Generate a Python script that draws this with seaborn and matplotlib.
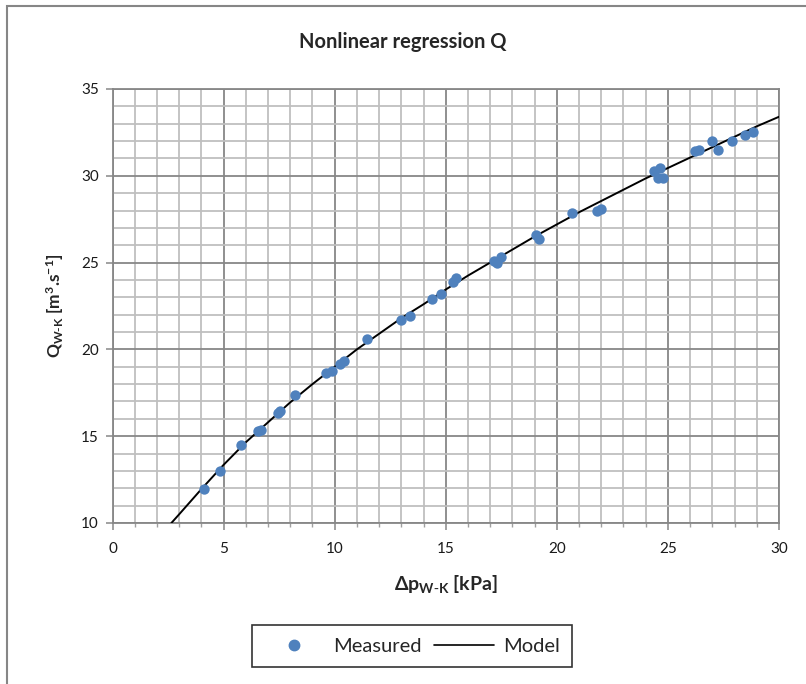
import matplotlib
matplotlib.use("Agg")
import matplotlib.pyplot as plt
from matplotlib.ticker import MultipleLocator
from matplotlib.patches import Rectangle
from matplotlib.lines import Line2D
import seaborn as sns
import pandas as pd

# Measured pressure drop [kPa] and flow rate [m3/s]
dp_measured = [4.13, 4.86, 5.79, 6.54, 6.69, 7.44, 7.55, 8.22, 9.60, 9.87,
               10.25, 10.43, 11.45, 13.00, 13.37, 14.38, 14.80, 15.31, 15.47,
               17.15, 17.30, 17.49, 19.08, 19.20, 20.68, 21.81, 21.99,
               24.39, 24.54, 24.63, 24.78, 26.24, 26.39, 27.00, 27.24, 27.87,
               28.48, 28.84]
q_measured = [11.94, 12.98, 14.51, 15.28, 15.36, 16.35, 16.45, 17.37, 18.62, 18.76,
              19.16, 19.33, 20.58, 21.69, 21.94, 22.89, 23.21, 23.87, 24.10,
              25.11, 24.96, 25.34, 26.59, 26.36, 27.84, 27.99, 28.09,
              30.29, 29.86, 30.45, 29.89, 31.45, 31.47, 32.02, 31.49, 32.02,
              32.35, 32.52]

# Regression model curve
dp_model = [2.65, 3, 4, 5, 6, 7, 8, 9, 10, 11, 12, 13, 14, 15, 16, 17, 18, 19,
            20, 21, 22, 23, 24, 25, 26, 27, 28, 29, 30]
q_model = [10.0, 10.5, 11.95, 13.35, 14.65, 15.8, 16.95, 18.0, 19.0, 20.0, 20.9,
           21.8, 22.6, 23.45, 24.25, 25.0, 25.75, 26.5, 27.2, 27.9, 28.55, 29.2,
           29.85, 30.45, 31.05, 31.65, 32.25, 32.85, 33.4]

x_ticks = [0, 5, 10, 15, 20, 25, 30]
y_ticks = [10, 15, 20, 25, 30, 35]

sns.set_style("white")
plt.rcParams["font.family"] = ["Lato", "DejaVu Sans"]
plt.rcParams["mathtext.default"] = "regular"

measured = pd.DataFrame({"dp": dp_measured, "q": q_measured})
model = pd.DataFrame({"dp": dp_model, "q": q_model})

W, H = 806, 684
fig = plt.figure(figsize=(W / 100, H / 100), dpi=100)
ax = fig.add_axes([112.5 / W, 1 - 523 / H, (779 - 112.5) / W, (523 - 89) / H])

blue = "#4F81BD"
sns.lineplot(data=model, x="dp", y="q", ax=ax, color="black", linewidth=1.4,
             zorder=3, sort=False)
sns.scatterplot(data=measured, x="dp", y="q", ax=ax, color=blue, s=56,
                edgecolor=blue, linewidth=0, zorder=4)

ax.set_xlim(0, 30)
ax.set_ylim(10, 35)
ax.set_xticks(x_ticks)
ax.set_yticks(y_ticks)
ax.xaxis.set_minor_locator(MultipleLocator(1))
ax.yaxis.set_minor_locator(MultipleLocator(1))
ax.grid(which="major", color="#878787", linewidth=1.3, zorder=0)
ax.grid(which="minor", color="#BFBFBF", linewidth=1.3, zorder=0)
ax.set_axisbelow(True)
for s in ax.spines.values():
    s.set_color("#878787")
    s.set_linewidth(1.3)

ax.tick_params(axis="both", which="major", direction="out", length=5,
               width=1.1, color="#878787", labelsize=11, labelcolor="#1a1a1a",
               bottom=True, left=True)
ax.tick_params(axis="x", which="major", pad=9)
ax.tick_params(axis="y", which="major", pad=5)
ax.tick_params(axis="x", which="minor", direction="out", length=3,
               width=1.0, color="#A0A0A0", bottom=True)
ax.tick_params(axis="y", which="minor", left=False)

ax.set_xlabel(r"$\Delta$p$_{W\text{-}K}$ [kPa]", fontsize=14, fontweight="bold",
              labelpad=12)
ax.set_ylabel(r"Q$_{W\text{-}K}$ [m$^{3}$.s$^{-1}$]", fontsize=12.5,
              fontweight="bold", labelpad=11)

fig.text(403 / W, 1 - 42 / H, "Nonlinear regression Q", ha="center",
         va="center", fontsize=14.5, fontweight="bold")

handles = [
    Line2D([], [], marker="o", linestyle="none", color=blue, markersize=7.5),
    Line2D([], [], color="black", linewidth=1.2),
]
leg = fig.legend(handles, ["Measured", "Model"], loc="center",
                 bbox_to_anchor=(412 / W, 1 - 646 / H), ncol=2, fontsize=14.5,
                 frameon=True, fancybox=False, edgecolor="black",
                 handlelength=3.0, handletextpad=0.45, columnspacing=0.6,
                 borderpad=0.6)
leg.get_frame().set_linewidth(1.2)

# Chart border
fig.patches.append(Rectangle((7 / W, -0.1), 1.2, 1 - 6 / H + 0.1,
                             transform=fig.transFigure, fill=False,
                             edgecolor="#868686", linewidth=1.5))

fig.savefig("out.png", dpi=100, facecolor="white")
